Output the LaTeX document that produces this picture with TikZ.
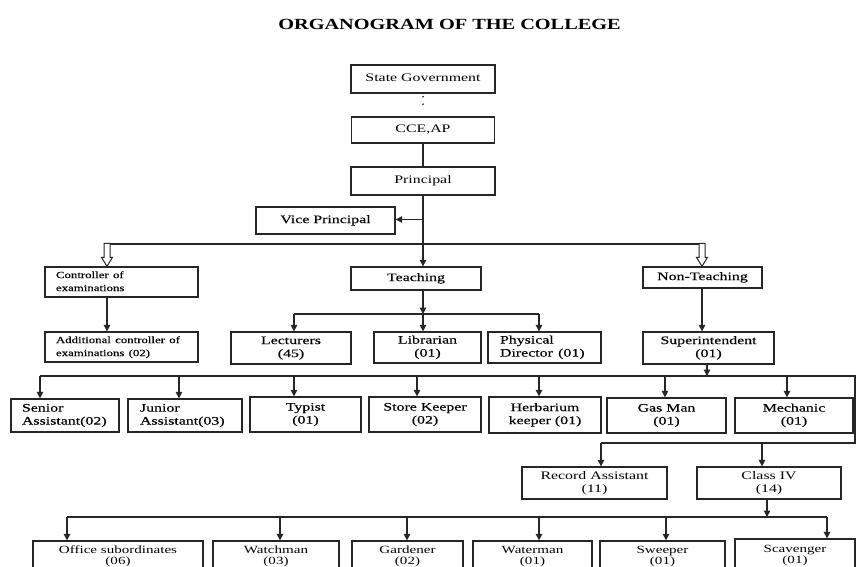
\documentclass[tikz,border=0pt]{standalone}
\usepackage{fontspec}
\setmainfont{Liberation Serif}
\newfontfamily\midfont{Liberation Serif}[FakeBold=0.3]
\usepackage{graphicx}
\usetikzlibrary{arrows.meta}
\definecolor{linec}{gray}{0.15}
\newcommand{\stc}[2][1.38]{\scalebox{#1}[1]{\begin{tabular}{@{}c@{}}#2\end{tabular}}}
\newcommand{\stl}[2][1.38]{\noindent\scalebox{#1}[1]{\begin{tabular}{@{}l@{}}#2\end{tabular}}}
\begin{document}
\begin{tikzpicture}[x=1pt,y=-1pt,
  box/.style={draw=linec, line width=1.3pt, rectangle, inner sep=0pt, fill=white,
    font=\fontsize{11.5}{13}\selectfont, text=black},
  lbox/.style={box, align=left, inner xsep=#1},
  mid/.style={font=\midfont\fontsize{11.5}{13}\selectfont},
  small/.style={font=\midfont\fontsize{9.5}{13}\selectfont},
  low/.style={font=\fontsize{11}{11.5}\selectfont},
  ln/.style={draw=linec, line width=1.3pt},
  arr/.style={ln, -{Triangle[length=6.5pt,width=6.5pt]}},
  hollow/.style={draw=linec, line width=1pt, fill=white},
  dotc/.style={draw=linec, line width=1.8pt, line cap=round, dash pattern=on 0pt off 7.5pt},
  titlestyle/.style={font=\bfseries\fontsize{15.5}{18}\selectfont, inner sep=0pt}
]
\useasboundingbox (0,0) rectangle (856,567);
\clip (0,0) rectangle (856,567);
\fill[white] (0,0) rectangle (856,567);

% title
\node[titlestyle] (title) at (449.5,24) {\scalebox{1.31}[1]{ORGANOGRAM OF THE COLLEGE}};

% top chain
\node[box, minimum width=144pt, minimum height=28pt] (sg) at (423,79) {\stc{State Government}};
\node[box, minimum width=143pt, minimum height=26pt] (cce) at (423,130) {\stc{CCE,AP}};
\node[box, minimum width=144pt, minimum height=28pt] (pr) at (423,181) {\stc{Principal}};
\node[box, mid, minimum width=139pt, minimum height=27pt] (vp) at (325.5,220.5) {\stc{Vice Principal}};

% second level
\node[lbox=11pt, small, text width=131pt, minimum height=30pt] (ctrl) at (121.5,282) {\stl[1.35]{Controller of\\examinations}};
\node[box, mid, minimum width=130pt, minimum height=23pt] (teach) at (416,278.5) {\stc{Teaching}};
\node[box, mid, minimum width=119pt, minimum height=21pt] (nt) at (702.5,277.5) {\stc{Non-Teaching}};

% third level
\node[lbox=11pt, small, text width=131pt, minimum height=30pt] (addl) at (121.5,347) {\stl[1.35]{Additional controller of\\examinations (02)}};
\node[box, mid, minimum width=120pt, minimum height=32pt] (lect) at (291,348) {\stc{Lecturers\\(45)}};
\node[box, mid, minimum width=107pt, minimum height=31pt] (lib) at (427.5,347.5) {\stc{Librarian\\(01)}};
\node[lbox=12pt, mid, text width=89pt, minimum height=31pt] (phys) at (544.5,347.5) {\stl{Physical\\Director (01)}};
\node[box, mid, minimum width=131pt, minimum height=32pt] (sup) at (708.5,348) {\stc{Superintendent\\(01)}};

% fourth level
\node[lbox=11pt, mid, text width=86pt, minimum height=33pt] (senior) at (65,415.5) {\stl{Senior\\Assistant(02)}};
\node[lbox=12pt, mid, text width=90pt, minimum height=33pt] (junior) at (185,415.5) {\stl{Junior\\Assistant(03)}};
\node[box, mid, minimum width=111pt, minimum height=35pt] (typist) at (305.5,414.5) {\stc{Typist\\(01)}};
\node[box, mid, minimum width=112pt, minimum height=35pt] (store) at (425,414.5) {\stc{Store Keeper\\(02)}};
\node[box, mid, minimum width=112pt, minimum height=36pt] (herb) at (545,415) {\stc{Herbarium\\keeper (01)}};
\node[box, mid, minimum width=119pt, minimum height=35pt] (gas) at (666.5,415.5) {\stc{Gas Man\\(01)}};
\node[box, mid, minimum width=118pt, minimum height=35pt] (mech) at (794,415.5) {\stc{Mechanic\\(01)}};

% fifth level
\node[box, minimum width=145pt, minimum height=32pt] (rec) at (594.5,483) {\stc{Record Assistant\\(11)}};
\node[box, minimum width=144pt, minimum height=32pt] (c4) at (769,483) {\stc{Class IV\\(14)}};

% bottom level (cut by the lower edge of the picture)
\node[box, low, minimum width=170pt, minimum height=31pt] (office) at (118,556.5) {\stc[1.37]{Office subordinates\\(06)}};
\node[box, low, minimum width=126pt, minimum height=31pt] (watch) at (276,556.5) {\stc[1.37]{Watchman\\(03)}};
\node[box, low, minimum width=111pt, minimum height=31pt] (gard) at (407.5,556.5) {\stc[1.37]{Gardener\\(02)}};
\node[box, low, minimum width=119pt, minimum height=31pt] (water) at (532.5,556.5) {\stc[1.37]{Waterman\\(01)}};
\node[box, low, minimum width=125pt, minimum height=31pt] (sweep) at (662.5,556.5) {\stc[1.37]{Sweeper\\(01)}};
\node[box, low, minimum width=120pt, minimum height=33pt] (scav) at (795,555.5) {\stc[1.37]{Scavenger\\(01)}};

% coordinates of junctions
\coordinate (jvp) at (423,219.5);
\coordinate (bl) at (107,244);
\coordinate (br) at (702,244);
\coordinate (t1) at (294,314);
\coordinate (tm) at (423,314);
\coordinate (t3) at (539,314);
\coordinate (s4) at (707,376);
\coordinate (b4a) at (40,376);
\coordinate (b4b) at (179,376);
\coordinate (b4c) at (294,376);
\coordinate (b4d) at (417,376);
\coordinate (b4e) at (539,376);
\coordinate (b4f) at (665,376);
\coordinate (b4g) at (787,376);
\coordinate (b4z) at (855,376);
\coordinate (b5z) at (855,443);
\coordinate (b5a) at (601,443);
\coordinate (b5b) at (762,443);
\coordinate (c6) at (767,517);
\coordinate (b6a) at (67,517);
\coordinate (b6b) at (280,517);
\coordinate (b6c) at (407,517);
\coordinate (b6d) at (539,517);
\coordinate (b6e) at (666,517);
\coordinate (b6f) at (827,517);

% top connectors
\draw[dotc] ([yshift=-3pt]sg.south) -- ([yshift=6pt]cce.north);
\draw[ln] (cce.south) -- (pr.north);
\draw[arr] (pr.south) -- (pr.south |- teach.north);
\draw[arr] (jvp) -- (jvp -| vp.east);
\draw[ln] (bl) -- (br);
\draw[hollow] (bl |- ctrl.north) -- ++(-5.5,-9) -- ++(2.5,0) -- ++(0,-14) -- ++(6,0) -- ++(0,14) -- ++(2.5,0) -- cycle;
\draw[hollow] (br |- nt.north) -- ++(-5.5,-9) -- ++(2.5,0) -- ++(0,-14) -- ++(6,0) -- ++(0,14) -- ++(2.5,0) -- cycle;

% second to third
\draw[arr] (bl |- ctrl.south) -- (bl |- addl.north);
\draw[arr] (tm |- teach.south) -- (tm);
\draw[ln] (t1) -- (t3);
\draw[arr] (t1) -- (t1 |- lect.north);
\draw[arr] (tm) -- (tm |- lib.north);
\draw[arr] (t3) -- (t3 |- phys.north);
\draw[arr] (br |- nt.south) -- (br |- sup.north);

% superintendent bus
\draw[arr] (s4 |- sup.south) -- (s4);
\draw[ln] (b4a) -- (b4z) -- (b5z) -- (b5a);
\draw[arr] (b4a) -- (b4a |- senior.north);
\draw[arr] (b4b) -- (b4b |- junior.north);
\draw[arr] (b4c) -- (b4c |- typist.north);
\draw[arr] (b4d) -- (b4d |- store.north);
\draw[arr] (b4e) -- (b4e |- herb.north);
\draw[arr] (b4f) -- (b4f |- gas.north);
\draw[arr] (b4g) -- (b4g |- mech.north);
\draw[arr] (b5a) -- (b5a |- rec.north);
\draw[arr] (b5b) -- (b5b |- c4.north);

% class IV bus
\draw[arr] (c6 |- c4.south) -- (c6);
\draw[ln] (b6a) -- (b6f);
\draw[arr] (b6a) -- (b6a |- office.north);
\draw[arr] (b6b) -- (b6b |- watch.north);
\draw[arr] (b6c) -- (b6c |- gard.north);
\draw[arr] (b6d) -- (b6d |- water.north);
\draw[arr] (b6e) -- (b6e |- sweep.north);
\draw[arr] (b6f) -- (b6f |- scav.north);
\end{tikzpicture}
\end{document}
